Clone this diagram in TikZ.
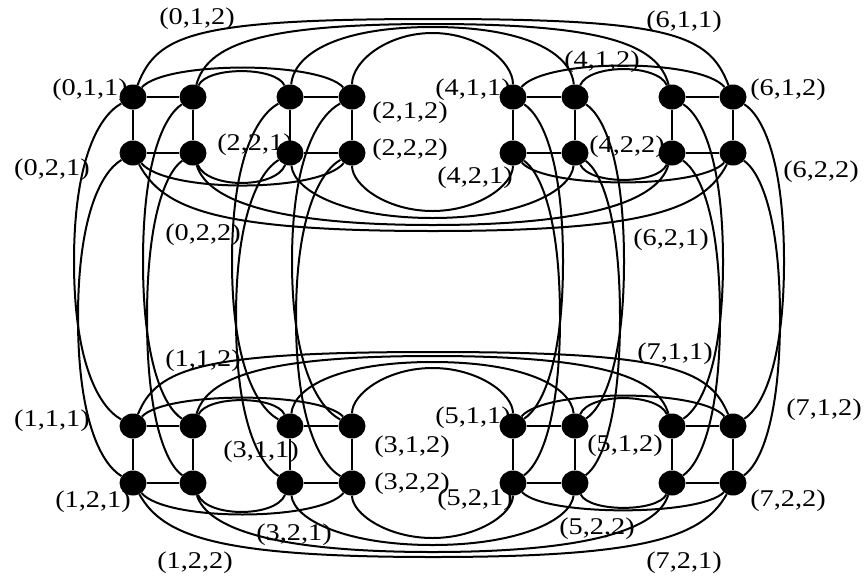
\documentclass[tikz,border=0pt]{standalone}
\usepackage{fontspec}
\setmainfont{Liberation Serif}[FakeStretch=1.18]
\usetikzlibrary{calc,shapes.geometric}
% long horizontal arc through apex (image y #3); #4 = roundness, #5 = tilt at the ends
\newcommand\harc[5]{%
  \draw[curve] let \p1=(#1.center), \p2=(#2.center), \n1={(\x1+\x2)/2}, \n2={-(#3)} in
    (#1) .. controls ({\x1+#5*(\n1-\x1)},{\y1+#4*(\n2-\y1)}) and ({\n1-#4*(\n1-\x1)},\n2) .. (\n1,\n2)
         .. controls ({\n1+#4*(\x2-\n1)},\n2) and ({\x2-#5*(\x2-\n1)},{\y2+#4*(\n2-\y2)}) .. (#2);}
% short horizontal arc, single cubic, apex at image y #3
\newcommand\sarc[4]{%
  \draw[curve] let \p1=(#1.center), \p2=(#2.center), \n1={-(#3)}, \n2={\y1+4/3*(\n1-\y1)}, \n3={#4*(\x2-\x1)} in
    (#1) .. controls ({\x1+\n3},\n2) and ({\x2-\n3},\n2) .. (#2);}
% vertical arc through apex (image x #3)
\newcommand\varc[5]{%
  \draw[curve] let \p1=(#1.center), \p2=(#2.center), \n1={(\y1+\y2)/2}, \n2={#3} in
    (#1) .. controls ({\x1+#4*(\n2-\x1)},{\y1+#5*(\n1-\y1)}) and (\n2,{\n1-#4*(\n1-\y1)}) .. (\n2,\n1)
         .. controls (\n2,{\n1+#4*(\y2-\n1)}) and ({\x2+#4*(\n2-\x2)},{\y2-#5*(\y2-\n1)}) .. (#2);}
\begin{document}
\begin{tikzpicture}[x=1pt,y=1pt,
  vtx/.style={ellipse,fill=black,draw=none,inner sep=0pt,minimum width=27pt,minimum height=25pt},
  curve/.style={line width=2pt,black},
  edge/.style={line width=1.8pt,black},
  lbl/.style={inner sep=0pt,anchor=center,font=\fontsize{24}{24}\selectfont}]
\useasboundingbox (0,0) rectangle (866,-581);
\fill[white] (0,0) rectangle (866,-581);
% vertices: a=(g,1,1) b=(g,1,2) c=(g,2,1) d=(g,2,2)
\foreach \g/\xl/\xr/\yt/\yb in {0/133/193/97/153, 2/290/352/97/153, 4/513/575/97/153, 6/672/733/97/153,
                              1/133/193/426/483, 3/290/352/426/483, 5/513/575/426/483, 7/672/733/426/483}{
  \node[vtx] (g\g a) at (\xl,-\yt) {};
  \node[vtx] (g\g b) at (\xr,-\yt) {};
  \node[vtx] (g\g c) at (\xl,-\yb) {};
  \node[vtx] (g\g d) at (\xr,-\yb) {};
  \draw[edge] (g\g a) -- (g\g b) -- (g\g d) -- (g\g c) -- (g\g a);
}
% top row, upper arcs
\sarc{g0a}{g2b}{70}{0.15}
\sarc{g0b}{g2a}{74}{0.15}
\sarc{g4a}{g6b}{68}{0.15}
\sarc{g4b}{g6a}{72}{0.15}
\harc{g0a}{g6b}{19}{0.8}{0.08}
\harc{g0b}{g6a}{24}{0.72}{0.06}
\harc{g2a}{g4b}{27}{0.64}{0.03}
\harc{g2b}{g4a}{33}{0.56}{0}
% top row, lower arcs
\sarc{g0c}{g2d}{183}{0.15}
\sarc{g0d}{g2c}{180}{0.15}
\sarc{g4c}{g6d}{180}{0.15}
\sarc{g4d}{g6c}{177}{0.15}
\harc{g0c}{g6d}{231}{0.72}{0.1}
\harc{g0d}{g6c}{225}{0.66}{0.06}
\harc{g2c}{g4d}{218}{0.6}{0.03}
\harc{g2d}{g4c}{211}{0.56}{0}
% bottom row, upper arcs
\sarc{g1a}{g3b}{400}{0.15}
\sarc{g1b}{g3a}{403}{0.15}
\sarc{g5a}{g7b}{398}{0.15}
\sarc{g5b}{g7a}{401}{0.15}
\harc{g1a}{g7b}{352}{0.78}{0.08}
\harc{g1b}{g7a}{356}{0.7}{0.06}
\harc{g3a}{g5b}{362}{0.63}{0.03}
\harc{g3b}{g5a}{368}{0.56}{0}
% bottom row, lower arcs
\sarc{g1c}{g3d}{512}{0.15}
\sarc{g1d}{g3c}{509}{0.15}
\sarc{g5c}{g7d}{508}{0.15}
\sarc{g5d}{g7c}{505}{0.15}
\harc{g1c}{g7d}{557}{0.72}{0.1}
\harc{g1d}{g7c}{552}{0.66}{0.06}
\harc{g3c}{g5d}{545}{0.6}{0.03}
\harc{g3d}{g5c}{538}{0.56}{0}
% vertical arcs
\varc{g0a}{g1a}{74}{0.6}{0.12}
\varc{g0c}{g1c}{78}{0.6}{0.12}
\varc{g0b}{g1b}{143}{0.6}{0.12}
\varc{g0d}{g1d}{147}{0.6}{0.12}
\varc{g2a}{g3a}{232}{0.6}{0.12}
\varc{g2c}{g3c}{236}{0.6}{0.12}
\varc{g2b}{g3b}{292}{0.6}{0.12}
\varc{g2d}{g3d}{296}{0.6}{0.12}
\varc{g4a}{g5a}{563}{0.6}{0.12}
\varc{g4c}{g5c}{560}{0.6}{0.12}
\varc{g4b}{g5b}{624}{0.6}{0.12}
\varc{g4d}{g5d}{620}{0.6}{0.12}
\varc{g6a}{g7a}{723}{0.6}{0.12}
\varc{g6c}{g7c}{720}{0.6}{0.12}
\varc{g6b}{g7b}{784}{0.6}{0.12}
\varc{g6d}{g7d}{780}{0.6}{0.12}
% labels
\node[lbl] (l012) at (197,-19) {(0,1,2)};
\node[lbl] (l011) at (90,-90) {(0,1,1)};
\node[lbl] (l021) at (52,-170) {(0,2,1)};
\node[lbl] (l221) at (255,-145) {(2,2,1)};
\node[lbl] (l212) at (410,-113) {(2,1,2)};
\node[lbl] (l222) at (410,-150) {(2,2,2)};
\node[lbl] (l022) at (203,-235) {(0,2,2)};
\node[lbl] (l411) at (473,-90) {(4,1,1)};
\node[lbl] (l412) at (602,-62) {(4,1,2)};
\node[lbl] (l611) at (684,-22) {(6,1,1)};
\node[lbl] (l612) at (788,-90) {(6,1,2)};
\node[lbl] (l422) at (627,-147) {(4,2,2)};
\node[lbl] (l421) at (475,-178) {(4,2,1)};
\node[lbl] (l622) at (821,-172) {(6,2,2)};
\node[lbl] (l621) at (671,-240) {(6,2,1)};
\node[lbl] (l112) at (203,-361) {(1,1,2)};
\node[lbl] (l111) at (52,-421) {(1,1,1)};
\node[lbl] (l311) at (261,-452) {(3,1,1)};
\node[lbl] (l312) at (412,-447) {(3,1,2)};
\node[lbl] (l322) at (412,-484) {(3,2,2)};
\node[lbl] (l121) at (93,-502) {(1,2,1)};
\node[lbl] (l321) at (294,-535) {(3,2,1)};
\node[lbl] (l122) at (195,-563) {(1,2,2)};
\node[lbl] (l511) at (473,-418) {(5,1,1)};
\node[lbl] (l711) at (675,-354) {(7,1,1)};
\node[lbl] (l712) at (824,-410) {(7,1,2)};
\node[lbl] (l512) at (625,-446) {(5,1,2)};
\node[lbl] (l521) at (475,-500) {(5,2,1)};
\node[lbl] (l722) at (788,-501) {(7,2,2)};
\node[lbl] (l522) at (597,-529) {(5,2,2)};
\node[lbl] (l721) at (684,-563) {(7,2,1)};
\end{tikzpicture}
\end{document}
